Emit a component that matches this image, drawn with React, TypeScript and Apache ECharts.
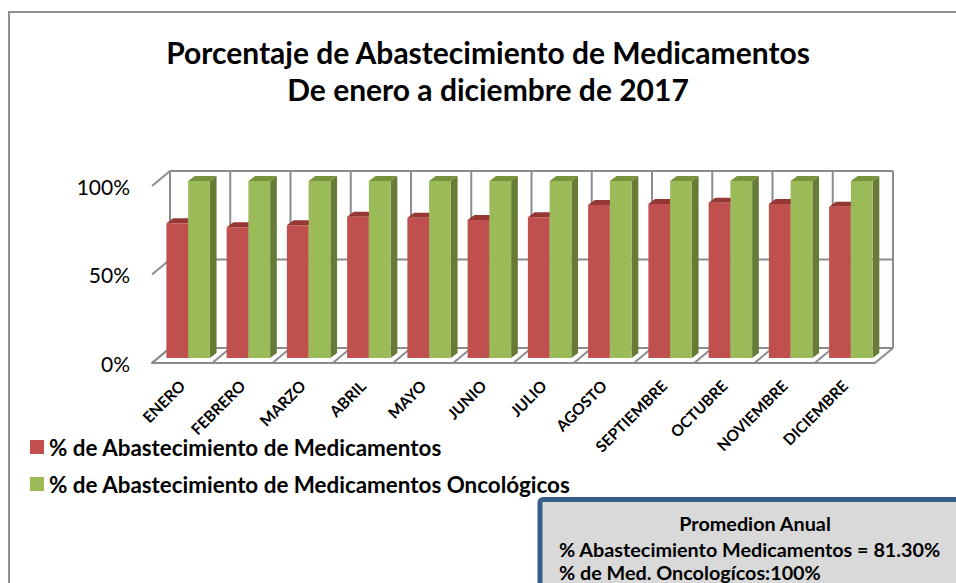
import React, { useEffect, useRef } from "react";
import * as echarts from "echarts";

const categories = ["ENERO","FEBRERO","MARZO","ABRIL","MAYO","JUNIO","JULIO","AGOSTO","SEPTIEMBRE","OCTUBRE","NOVIEMBRE","DICIEMBRE"];
const medicamentos = [76.1,73.8,75,79.8,79.3,78,79.5,86.4,87,87.7,87,85.5];
const oncologicos = [100,100,100,100,100,100,100,100,100,100,100,100];
const valueTicks = [0,50,100];
const titleLines = ["Porcentaje de Abastecimiento de Medicamentos","De enero a diciembre de 2017"];
const seriesNames = ["% de Abastecimiento de Medicamentos","% de Abastecimiento de Medicamentos Oncológicos"];
const boxLines = ["Promedion Anual","% Abastecimiento Medicamentos = 81.30%","% de Med. Oncologícos:100%"];

const FONT = "Lato";
const GRID = "#8c8c8c";
const WALL_DX = 18, WALL_DY = -15;
const BAR_W = 21.75, BAR_DX = 6, BAR_DY = -5, SIDE_DX = 6.7, SIDE_DY = -5;

function barItem(side: "left" | "right", front: string, top: string, sideC: string) {
  return (_p: any, api: any) => {
    const idx = api.value(0);
    const [cx, yv] = api.coord([idx, api.value(1)]);
    const [, y0] = api.coord([idx, 0]);
    const x = (side === "left" ? cx - BAR_W : cx) + BAR_DX;
    const yT = yv + BAR_DY, yB = y0 + BAR_DY;
    return {
      type: "group",
      children: [
        { type: "polygon", shape: { points: [[x + BAR_W, yT], [x + BAR_W + SIDE_DX, yT + SIDE_DY], [x + BAR_W + SIDE_DX, yB + SIDE_DY], [x + BAR_W, yB]] }, style: { fill: sideC } },
        { type: "polygon", shape: { points: [[x, yT], [x + BAR_W, yT], [x + BAR_W + SIDE_DX, yT + SIDE_DY], [x + SIDE_DX, yT + SIDE_DY]] }, style: { fill: top } },
        { type: "rect", shape: { x, y: yT, width: BAR_W, height: yB - yT }, style: { fill: front } },
      ],
    };
  };
}

function wallItem(_p: any, api: any) {
  const n = categories.length;
  const [c0, y0] = api.coord([0, 0]);
  const band = api.size([1, 0])[0];
  const left = c0 - band / 2;
  const right = left + band * n;
  const style = { stroke: GRID, lineWidth: 2, fill: "none" };
  const line = (x1: number, y1: number, x2: number, y2: number) => ({ type: "line", shape: { x1, y1, x2, y2 }, style });
  const kids: any[] = [];
  valueTicks.forEach((t) => {
    const y = api.coord([0, t])[1];
    kids.push(line(left, y, left + WALL_DX, y + WALL_DY));
    kids.push(line(left + WALL_DX, y + WALL_DY, right + WALL_DX, y + WALL_DY));
  });
  const yTop = api.coord([0, 100])[1];
  for (let i = 0; i <= n; i++) {
    const x = left + band * i;
    kids.push(line(x, y0, x + WALL_DX, y0 + WALL_DY));
    kids.push(line(x + WALL_DX, y0 + WALL_DY, x + WALL_DX, yTop + WALL_DY));
  }
  return { type: "group", children: kids };
}

export default function App() {
  const ref = useRef<HTMLDivElement>(null);
  useEffect(() => {
    const chart = echarts.init(ref.current!, null, { renderer: "svg" });
    chart.setOption({
      animation: false,
      backgroundColor: "#ffffff",
      title: {
        text: titleLines.join("\n"),
        left: 488, top: 33, padding: 0, textAlign: "center",
        textStyle: { fontFamily: FONT, fontWeight: "bold", fontSize: 30, lineHeight: 37, color: "#000" },
      },
      legend: {
        orient: "vertical", left: 30, top: 434, padding: 0, itemWidth: 14, itemHeight: 14, itemGap: 11, icon: "rect",
        data: seriesNames,
        textStyle: { fontFamily: FONT, fontWeight: "bold", fontSize: 22.4, lineHeight: 26, color: "#000" },
      },
      grid: { left: 152, top: 186, width: 723, height: 177 },
      xAxis: {
        type: "category", data: categories,
        axisTick: { show: false },
        axisLine: { lineStyle: { color: GRID, width: 2 } },
        axisLabel: { rotate: 45, margin: 20, interval: 0, fontFamily: FONT, fontWeight: "bold", fontSize: 15.5, color: "#000" },
      },
      yAxis: {
        type: "value", min: 0, max: 100, interval: 50,
        axisLine: { show: false }, axisTick: { show: false }, splitLine: { show: false },
        axisLabel: { margin: 22, formatter: "{value}%", fontFamily: FONT, fontSize: 21, color: "#000" },
      },
      series: [
        { type: "custom", name: "walls", data: [[0, 0]], renderItem: wallItem, silent: true, z: 1, encode: { x: 0, y: 1 } },
        { type: "custom", name: seriesNames[0], data: medicamentos.map((v, i) => [i, v]), itemStyle: { color: "#c0504d" }, z: 2, encode: { x: 0, y: 1 }, renderItem: barItem("left", "#c0504d", "#953735", "#7d3331") },
        { type: "custom", name: seriesNames[1], data: oncologicos.map((v, i) => [i, v]), itemStyle: { color: "#9bbb59" }, z: 3, encode: { x: 0, y: 1 }, renderItem: barItem("right", "#9bbb59", "#77933c", "#677a36") },
      ],
      graphic: [
        { type: "rect", silent: true, shape: { x: 9, y: 12, width: 1100, height: 700 }, style: { fill: "none", stroke: "#8f8f8f", lineWidth: 2 }, z: 0 },
        { type: "rect", silent: true, shape: { x: 540, y: 499.5, width: 600, height: 200, r: 3 }, style: { fill: "#d9d9d9", stroke: "#385d8a", lineWidth: 5 }, z: 10 },
        { type: "text", x: 755, y: 523, z: 11, style: { text: boxLines[0], textAlign: "center", textVerticalAlign: "middle", font: `bold 19.8px ${FONT}`, fill: "#000" } },
        { type: "text", x: 559, y: 549, z: 11, style: { text: boxLines[1], textAlign: "left", textVerticalAlign: "middle", font: `bold 19.8px ${FONT}`, fill: "#000" } },
        { type: "text", x: 559, y: 572, z: 11, style: { text: boxLines[2], textAlign: "left", textVerticalAlign: "middle", font: `bold 19.8px ${FONT}`, fill: "#000" } },
      ],
    });
    return () => chart.dispose();
  }, []);
  return <div ref={ref} style={{ position: "fixed", left: 0, top: 0, width: 956, height: 583 }} />;
}
